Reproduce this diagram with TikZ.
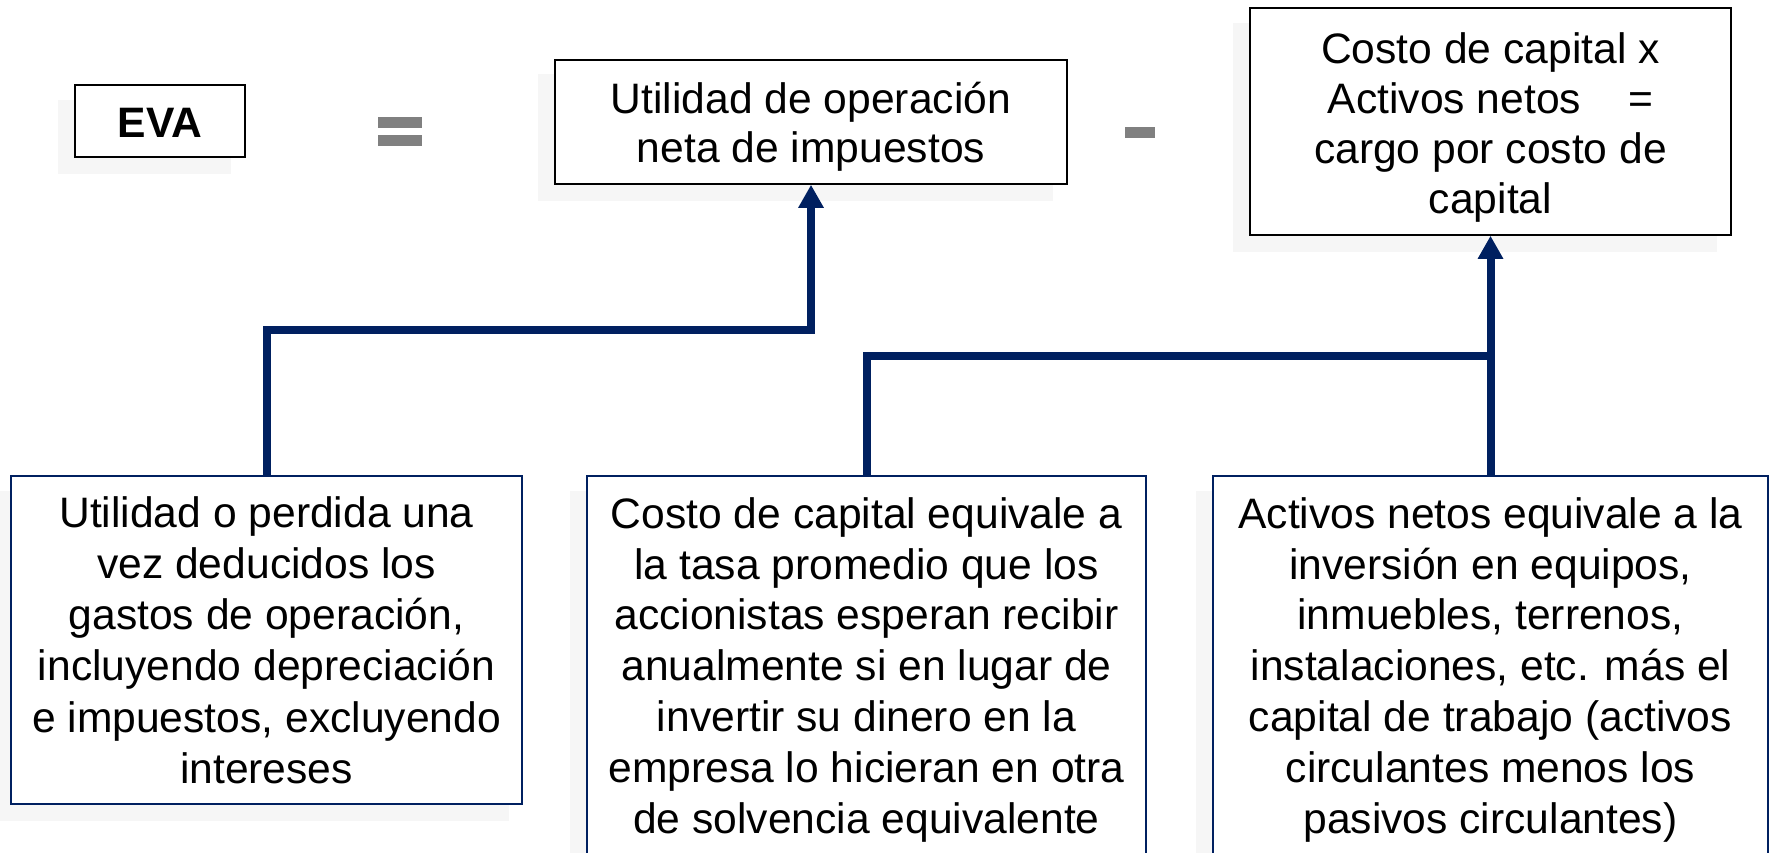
\documentclass[tikz,border=0pt]{standalone}
\usepackage{fontspec}
\setmainfont{Liberation Sans}
\usetikzlibrary{arrows.meta}
\definecolor{navy}{HTML}{002060}
\definecolor{shade}{RGB}{246,246,246}
\definecolor{signgray}{HTML}{808080}
\begin{document}
\begin{tikzpicture}[x=1pt,y=-1pt,
  shadowbox/.style={fill=shade},
  topbox/.style={rectangle,draw=black,line width=1.5pt,fill=white,inner sep=0pt},
  botbox/.style={rectangle,draw=navy,line width=1.5pt,fill=white,inner sep=0pt},
  txt/.style={align=center,inner sep=0pt,anchor=north},
  conn/.style={draw=navy,line width=8pt},
  arr/.style={conn,-{Triangle[length=23pt,width=24pt]}},
  signbar/.style={fill=signgray}]
\useasboundingbox (0,0) rectangle (1776,853);
\clip (0,0) rectangle (1776,853);
\fill[white] (0,0) rectangle (1776,853);

% shadows
\fill[shadowbox] (58,100) rectangle (231,174);
\fill[shadowbox] (538,74) rectangle (1053,201);
\fill[shadowbox] (1233,23) rectangle (1717,252);
\fill[shadowbox] (-6,491) rectangle (509,821);
\fill[shadowbox] (570,491) rectangle (1132,890);
\fill[shadowbox] (1196,491) rectangle (1754,890);

% boxes
\node[topbox,minimum width=170pt,minimum height=72pt] (eva) at (160,121) {};
\node[topbox,minimum width=512pt,minimum height=124pt] (util) at (811,122) {};
\node[topbox,minimum width=481pt,minimum height=227pt] (costo) at (1490.5,121.5) {};
\node[botbox,minimum width=511pt,minimum height=328pt] (b1) at (266.5,640) {};
\node[botbox,minimum width=559pt,minimum height=394pt] (b2) at (866.5,673) {};
\node[botbox,minimum width=555pt,minimum height=394pt] (b3) at (1490.5,673) {};

% equals and minus signs
\fill[signbar] (378,117) rectangle (422,128);
\fill[signbar] (378,135) rectangle (422,146);
\fill[signbar] (1125,127) rectangle (1155,138);

% connectors
\coordinate (j1) at (0,330);
\coordinate (j2) at (0,355.5);
\draw[arr] (b1.north) -- (b1.north |- j1) -| (util.south);
\draw[conn] (b2.north) -- (b2.north |- j2) -- (b3.north |- j2);
\draw[arr] (b3.north) -- (costo.south);

% texts
\node[inner sep=0pt,anchor=base,font=\fontsize{42.6}{50}\selectfont\bfseries] (evat) at (160,138) {EVA};
\node[txt,font=\fontsize{42.6}{49}\selectfont] (utilt) at (811,73) {\rule{0pt}{40pt}Utilidad de operación\\neta de impuestos};
\node[txt,font=\fontsize{42.6}{50}\selectfont] (costot) at (1490.5,23.5) {\rule{0pt}{40pt}Costo de capital x\\Activos netos\ \ \ \ =\\cargo por costo de\\capital};
\node[txt,font=\fontsize{42.6}{51.2}\selectfont] (b1t) at (266.5,487) {\rule{0pt}{40pt}Utilidad o perdida una\\vez deducidos los\\gastos de operación,\\incluyendo depreciación\\e impuestos, excluyendo\\intereses};
\node[txt,font=\fontsize{42.6}{50.8}\selectfont] (b2t) at (866.5,488) {\rule{0pt}{40pt}Costo de capital equivale a\\la tasa promedio que los\\accionistas esperan recibir\\anualmente si en lugar de\\invertir su dinero en la\\empresa lo hicieran en otra\\de solvencia equivalente};
\node[txt,font=\fontsize{42.6}{50.8}\selectfont] (b3t) at (1490.5,488) {\rule{0pt}{40pt}Activos netos equivale a la\\inversión en equipos,\\inmuebles, terrenos,\\instalaciones, etc. más el\\capital de trabajo (activos\\circulantes menos los\\pasivos circulantes)};
\end{tikzpicture}
\end{document}
